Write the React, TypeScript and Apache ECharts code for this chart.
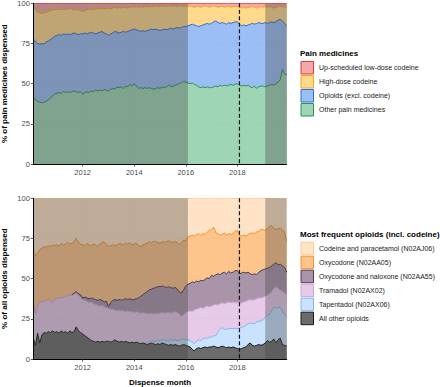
import { useEffect, useRef } from "react";
import * as echarts from "echarts";

const FONT = '"Liberation Sans", Arial, Helvetica, sans-serif';

// ---- time axis: monthly dispensing, Feb 2010 – Dec 2019 (decimal years) ----
const FIRST_YEAR = 2010;
const FIRST_MONTH_OFFSET = 1; // February
const MONTH_COUNT = 119;
const months: number[] = Array.from(
  { length: MONTH_COUNT },
  (_, i) => FIRST_YEAR + (FIRST_MONTH_OFFSET + i) / 12
);

const yearTicks = [2012, 2014, 2016, 2018];
const percentTicks = [0, 25, 50, 75, 100];
const gridPercents = [25, 50, 75];
const TOTAL = 100;
const shadedPeriods: [number, number][] = [
  [months[0], 2016 + 1 / 12],
  [2019 + 1 / 12, months[MONTH_COUNT - 1]],
];
const upschedulingDate = 2018 + 1 / 12;

// ---- Panel 1: pain medicines (upper boundaries of stacked bands, %) ----
const painLabels = [
  "Up-scheduled low-dose codeine",
  "High-dose codeine",
  "Opioids (excl. codeine)",
  "Other pain medicines",
];

const otherPainUpper = [
  42, 40, 39, 38.5, 38, 38.5, 39, 40, 41, 42.5, 43.5,
  44, 44.5, 44, 45, 44.5, 45, 44.5, 45, 45.5, 45, 44.5, 45,
  43.5, 44.5, 45, 44.5, 45.5, 45, 46, 45.5, 46, 45.5, 46.5, 46,
  45.5, 46.5, 47, 46.5, 48, 47.5, 48, 47, 48.5, 48, 49.5, 48.5,
  50, 48.5, 47, 47.5, 47, 47.5, 47, 47.5, 47, 46.5, 47, 47.5,
  47, 48, 47.5, 48, 49, 48.5, 48, 49, 49.5, 50, 50.5, 51.5,
  51, 50.5, 50, 50.5, 49.5, 49, 48, 47.5, 48, 47.5, 48, 47.5,
  47.5, 48, 48.5, 48, 49, 48.5, 49, 48.5, 49, 49.5, 49, 49.5,
  50, 49, 48.5, 49, 48.5, 49, 48, 47.5, 48.5, 47, 48, 48.5,
  48.5, 48, 48.5, 49, 49.5, 49, 50, 51, 52.5, 59, 56, 55.5,
];

const opioidsUpper = [
  78, 76, 75, 74.5, 75, 74.5, 76, 76.5, 77.5, 78.5, 79.5,
  80, 80.5, 80, 81, 80.5, 81, 80.5, 81, 81.5, 81, 80.5, 81,
  81, 81.5, 81, 81.5, 82, 81.5, 81, 81.5, 82, 82.5, 81.5, 81,
  80, 81, 81.5, 82.5, 82, 81.5, 82, 82.5, 82, 82.5, 83, 83.5,
  84, 83.5, 83, 82.5, 83, 82.5, 83, 83.5, 84, 83.5, 84, 83.5,
  83, 83.5, 84, 83.5, 84, 84.5, 84, 84.5, 85, 84.5, 85, 85.5,
  85.5, 86, 86.5, 87, 86.5, 86, 85.5, 86, 86.5, 87, 87.5, 87,
  87.5, 88.5, 89, 88, 87.5, 88, 87.5, 87, 88, 87.5, 88, 88.5,
  88.5, 87, 86, 86.5, 86, 86.5, 87, 87.5, 87, 87.5, 88, 87.5,
  87.5, 88, 87.5, 88, 88.5, 88, 88.5, 89.5, 90, 89, 87.5, 86,
];

const highDoseUpper = [
  98.5, 96, 94.5, 94, 93.8, 94, 94.5, 95, 95.5, 96, 96,
  96.5, 96, 96.5, 96, 96.5, 96.5, 97, 96.5, 96, 96.5, 96, 95.5,
  95, 95.5, 96, 96.5, 96, 96.5, 96.5, 97, 96.5, 97, 96.5, 97,
  97, 96.5, 97, 97.5, 97, 97.5, 97, 97.5, 97.5, 97, 97.5, 98,
  97.5, 98, 97.5, 98, 97.5, 98, 98, 97.5, 98, 98, 98.5, 98,
  98, 98.5, 98, 98, 98.5, 98, 98.5, 98.5, 98, 98.5, 98.5, 98,
  98.5, 98, 98.5, 98, 97.5, 98, 98, 97.5, 98, 98.5, 98, 97.5,
  98, 98.5, 98, 97.5, 98, 98, 97.5, 98, 98, 97.5, 98, 98,
  98, 97.5, 97, 97.5, 97, 97.5, 97.5, 98, 97.5, 97, 97.5, 98,
  97.5, 98, 97.5, 98, 97.5, 97, 97.5, 98, 98.5, 97.5, 98, 97,
];

// ---- Panel 2: most frequent opioids (upper boundaries of stacked bands, %) ----
const opioidLabels = [
  "Codeine and paracetamol (N02AJ06)",
  "Oxycodone (N02AA05)",
  "Oxycodone and naloxone (N02AA55)",
  "Tramadol (N02AX02)",
  "Tapentadol (N02AX06)",
  "All other opioids",
];

const otherOpioidsUpper = [
  13, 8.5, 16, 10, 15, 16.5, 16, 17, 16.5, 17.5, 16.5,
  17, 16, 17.5, 16.5, 17, 16, 17.5, 16.5, 17, 20, 17.5, 16.5,
  15.5, 14.5, 13.5, 12.5, 11.5, 11, 10.5, 11, 10.5, 11, 10.5, 11,
  11, 10.5, 11, 12, 11, 10.5, 11, 10.5, 11, 10.5, 10, 10.5,
  10, 10.5, 10, 9.5, 10, 9.5, 9, 9.5, 10, 9.5, 9, 9.5,
  9, 10, 9.5, 9, 8.5, 9, 8.5, 9, 8.5, 8, 8.5, 9,
  8.5, 8, 7.5, 6, 5, 6.5, 7, 6.5, 7, 7.5, 7, 7.5,
  7.5, 8, 7.5, 7, 7.5, 8, 7.5, 7, 7.5, 7, 7.5, 7,
  6.5, 6, 6.5, 7, 7.5, 9, 10, 8.5, 8, 8.5, 9, 8.5,
  9, 10, 11.5, 10.5, 11, 12.5, 10, 12, 13, 9, 8.5, 8,
];

// null = not yet dispensed (tapentadol from mid-2014)
const tapentadolUpper: (number | null)[] = [
  null, null, null, null, null, null, null, null, null, null, null,
  null, null, null, null, null, null, null, null, null, null, null, null,
  null, null, null, null, null, null, null, null, null, null, null, null,
  null, null, null, null, null, null, null, null, null, null, null, null,
  null, null, null, null, null, null, 9.5, 10.5, 11.5, 11, 11, 11.5,
  11, 12, 12, 11.5, 11, 12, 11.5, 12, 11.5, 11.5, 12, 12.5,
  12, 12, 11.5, 10.5, 9.5, 11, 12, 11.5, 12.5, 13, 13, 13.5,
  13.5, 14.5, 14.5, 17, 18.5, 19.5, 18.5, 18.5, 19, 19, 19, 19,
  19, 19, 20, 20, 21, 22, 22.5, 22, 22, 23, 23.5, 23.5,
  24.5, 26, 27.5, 27.5, 30, 32.5, 31.5, 32, 32, 30, 27.5, 26,
];

const tramadolUpper = [
  35.5, 28, 33, 35, 36, 35.5, 36.5, 37.5, 36, 35, 37,
  38, 37.5, 38.5, 38, 39.5, 39, 40, 39.5, 40.5, 41, 39.5, 38.5,
  37, 36.5, 36, 35, 35.5, 34.5, 34, 33.5, 33, 33.5, 32.5, 32,
  31.5, 31, 31, 30.5, 30, 30.5, 30, 30, 29.5, 30, 29.5, 29.5,
  29, 29.5, 29, 28.5, 29, 28.5, 28.5, 28, 28.5, 28, 28.5, 28.5,
  28.5, 29, 28.5, 29, 29, 28.5, 29, 29.5, 29, 28, 26.5, 27.5,
  29, 29.5, 30, 29.5, 30.5, 31, 31.5, 32, 31.5, 32.5, 33, 32.5,
  33, 33.5, 34, 33.5, 34.5, 35, 34.5, 35, 35.5, 35, 35.5, 35,
  35.5, 34.5, 35, 35.5, 36, 36.5, 37, 36.5, 37, 37.5, 38, 38,
  38.5, 39, 40, 40.5, 42, 44, 45, 44, 43, 42.5, 41, 40,
];

// null = not yet dispensed (oxycodone + naloxone from late 2011)
const oxyNaloxoneUpper: (number | null)[] = [
  null, null, null, null, null, null, null, null, null, null, null,
  null, null, null, null, null, null, null, 40, 41, 42, 40.5, 40,
  38, 38.5, 38, 37.5, 38, 37.5, 37, 36.5, 37, 36.5, 35.5, 36,
  32.5, 35, 36.5, 37, 36.5, 37, 36.5, 37, 37.5, 37, 37.5, 37,
  37, 37.5, 38, 39, 40, 41, 42, 43, 43.5, 44, 44.5, 45,
  45, 45.5, 45, 44.5, 45, 44.5, 44, 44.5, 43.5, 42, 41, 43,
  45.5, 46.5, 47, 48, 47.5, 48.5, 48, 49, 48.5, 49.5, 50.5, 50,
  52, 51.5, 52.5, 53, 52.5, 53.5, 54, 53, 54.5, 53.5, 54, 55,
  55, 53, 53.5, 54, 53.5, 54, 53, 52.5, 53, 52.5, 54, 55,
  55.5, 56, 56.5, 57, 58, 59, 60, 58.5, 59, 58, 57, 54,
];

const oxycodoneUpper = [
  68, 64, 66, 68, 69, 70, 69.5, 70.5, 70, 71, 70.5,
  71, 70.5, 72, 71, 71.5, 72.5, 71.5, 72, 73, 75, 72.5, 71.5,
  71, 70.5, 72, 71, 70.5, 71.5, 71, 70, 71.5, 72.5, 73, 71.5,
  70, 70.5, 71, 70.5, 71, 72, 71.5, 71, 72, 71.5, 72.5, 71,
  71.5, 72, 70.5, 70, 71, 71.5, 72, 73, 72, 73.5, 73, 72.5,
  72, 73, 72.5, 73, 73.5, 73, 72.5, 73, 72.5, 71, 72.5, 74,
  73.5, 76, 76.5, 77, 76.5, 77.5, 78, 77, 78, 77.5, 79, 80,
  80.5, 82, 78.5, 78, 77, 77.5, 78.5, 77, 78, 77.5, 78, 79.5,
  80, 77, 76.5, 77, 76.5, 77.5, 78, 78.5, 78, 79, 79.5, 80.5,
  80.5, 80, 81, 82.5, 83, 81.5, 80.5, 81, 81.5, 80.5, 79, 73,
];

// ---- styles ----
const painFills = ["#F3A9A9", "#FFD98C", "#9CBEF6", "#9ED6B5"];
const painLines = ["#E23A3A", "#F2A81D", "#2F6FD8", "#2A9457"];
const opioidFills = ["#FFE3C7", "#FDC48B", "#AA94AA", "#E7C9E8", "#C9E2FE", "#6C6C6C"];
const opioidLines = ["#FFC995", "#F3912B", "#4E3D4E", "#CDA5D6", "#86B6EF", "#1A1A1A"];
const SHADE = "rgba(70,70,70,0.35)";

const GRID_LEFT = 33.3;
const GRID_W = 253.4;
const GRID_H = 160.7;
const GRID_TOPS = [3.3, 198.3];

function pairs(values: (number | null)[]) {
  return months.map((m, i) => [m, values[i] == null ? null : values[i]]);
}
function withFallback(values: (number | null)[], fallback: number[]) {
  return values.map((v, i) => (v == null ? fallback[i] : v));
}

function areaSeries(name: string, upper: (number | null)[], fill: string, g: number) {
  return {
    type: "line",
    name: name + " area",
    xAxisIndex: g,
    yAxisIndex: g,
    data: pairs(upper),
    showSymbol: false,
    symbol: "none",
    silent: true,
    lineStyle: { width: 0, opacity: 0 },
    areaStyle: { color: fill, opacity: 1 },
    z: 2,
  };
}
function lineSeries(name: string, upper: (number | null)[], color: string, g: number) {
  return {
    type: "line",
    name,
    xAxisIndex: g,
    yAxisIndex: g,
    data: pairs(upper),
    showSymbol: false,
    symbol: "none",
    silent: true,
    connectNulls: false,
    lineStyle: { width: 1, color },
    z: 3,
  };
}

const overlayItems: number[][] = [
  ...yearTicks.map((y) => [0, y, y]),
  ...gridPercents.map((p) => [1, p, p]),
  ...shadedPeriods.map(([a, b]) => [2, a, b]),
  [3, upschedulingDate, upschedulingDate],
];

function overlaySeries(g: number) {
  return {
    type: "custom",
    xAxisIndex: g,
    yAxisIndex: g,
    silent: true,
    z: 10,
    data: overlayItems,
    renderItem: (params: any, api: any) => {
      const kind = api.value(0);
      const a = api.value(1);
      const b = api.value(2);
      const cs = params.coordSys;
      if (kind === 0 || kind === 3) {
        const x = api.coord([a, 0])[0];
        return {
          type: "line",
          shape: { x1: x, y1: cs.y, x2: x, y2: cs.y + cs.height },
          style:
            kind === 0
              ? { stroke: "rgba(0,0,0,0.08)", lineWidth: 0.6, lineDash: [1, 1.5] }
              : { stroke: "#111111", lineWidth: 1.2, lineDash: [4, 2.5] },
        };
      }
      if (kind === 1) {
        const y = api.coord([months[0], a])[1];
        return {
          type: "line",
          shape: { x1: cs.x, y1: y, x2: cs.x + cs.width, y2: y },
          style: { stroke: "rgba(0,0,0,0.08)", lineWidth: 0.6, lineDash: [1, 1.5] },
        };
      }
      const p1 = api.coord([a, TOTAL]);
      const p2 = api.coord([b, 0]);
      return {
        type: "rect",
        shape: { x: p1[0], y: p1[1], width: p2[0] - p1[0], height: p2[1] - p1[1] },
        style: { fill: SHADE },
      };
    },
  };
}

function legend(title: string, labels: string[], fills: string[], strokes: string[], titleY: number, firstY: number, step: number) {
  const els: any[] = [
    {
      type: "text",
      x: 300,
      y: titleY,
      silent: true,
      style: { text: title, fontFamily: FONT, fontSize: 8, fontWeight: "bold", fill: "#000", align: "left", verticalAlign: "middle" },
    },
  ];
  labels.forEach((lab, i) => {
    const cy = firstY + i * step;
    els.push({
      type: "rect",
      silent: true,
      shape: { x: 301, y: cy - 6, width: 12.5, height: 12.5 },
      style: { fill: fills[i], stroke: strokes[i], lineWidth: 1 },
    });
    els.push({
      type: "text",
      x: 319,
      y: cy + 0.3,
      silent: true,
      style: { text: lab, fontFamily: FONT, fontSize: 7, fill: "#1a1a1a", align: "left", verticalAlign: "middle" },
    });
  });
  return els;
}

export default function App() {
  const ref = useRef<HTMLDivElement>(null);
  useEffect(() => {
    if (!ref.current) return;
    const chart = echarts.init(ref.current, null, { renderer: "svg" });

    const painTotal = months.map(() => TOTAL);
    const opioidTotal = months.map(() => TOTAL);

    const tapFilled = withFallback(tapentadolUpper, otherOpioidsUpper);
    const oxyNalFilled = withFallback(oxyNaloxoneUpper, tramadolUpper);

    const series: any[] = [
      // panel 1 areas (top band first, opaque layering)
      areaSeries(painLabels[0], painTotal, painFills[0], 0),
      areaSeries(painLabels[1], highDoseUpper, painFills[1], 0),
      areaSeries(painLabels[2], opioidsUpper, painFills[2], 0),
      areaSeries(painLabels[3], otherPainUpper, painFills[3], 0),
      lineSeries(painLabels[3], otherPainUpper, painLines[3], 0),
      lineSeries(painLabels[2], opioidsUpper, painLines[2], 0),
      lineSeries(painLabels[1], highDoseUpper, painLines[1], 0),
      lineSeries(painLabels[0], painTotal, painLines[0], 0),
      overlaySeries(0),
      // panel 2
      areaSeries(opioidLabels[0], opioidTotal, opioidFills[0], 1),
      areaSeries(opioidLabels[1], oxycodoneUpper, opioidFills[1], 1),
      areaSeries(opioidLabels[2], oxyNalFilled, opioidFills[2], 1),
      areaSeries(opioidLabels[3], tramadolUpper, opioidFills[3], 1),
      areaSeries(opioidLabels[4], tapFilled, opioidFills[4], 1),
      areaSeries(opioidLabels[5], otherOpioidsUpper, opioidFills[5], 1),
      lineSeries(opioidLabels[5], otherOpioidsUpper, opioidLines[5], 1),
      lineSeries(opioidLabels[4], tapentadolUpper, opioidLines[4], 1),
      lineSeries(opioidLabels[3], tramadolUpper, opioidLines[3], 1),
      lineSeries(opioidLabels[2], oxyNaloxoneUpper, opioidLines[2], 1),
      lineSeries(opioidLabels[1], oxycodoneUpper, opioidLines[1], 1),
      lineSeries(opioidLabels[0], opioidTotal, opioidLines[0], 1),
      overlaySeries(1),
    ];

    const xAxis = [0, 1].map((g) => ({
      type: "value",
      gridIndex: g,
      min: months[0],
      max: months[MONTH_COUNT - 1],
      axisLine: { show: true, onZero: false, lineStyle: { color: "#000", width: 1 } },
      axisTick: { show: true, customValues: yearTicks, length: 2.5, lineStyle: { color: "#333", width: 0.8 } },
      axisLabel: {
        customValues: yearTicks,
        formatter: (v: number) => String(Math.round(v)),
        fontFamily: FONT,
        fontSize: 7.5,
        color: "#4d4d4d",
        margin: 4,
      },
      splitLine: { show: false },
      z: 12,
    }));

    const yAxis = [0, 1].map((g) => ({
      type: "value",
      gridIndex: g,
      min: percentTicks[0],
      max: percentTicks[percentTicks.length - 1],
      interval: percentTicks[1] - percentTicks[0],
      axisLine: { show: true, onZero: false, lineStyle: { color: "#000", width: 1 } },
      axisTick: { show: true, length: 2.5, lineStyle: { color: "#333", width: 0.8 } },
      axisLabel: { fontFamily: FONT, fontSize: 7.5, color: "#4d4d4d", margin: 3.5 },
      splitLine: { show: false },
      z: 12,
    }));

    const yTitle = (text: string, cy: number) => ({
      type: "text",
      x: 4.5,
      y: cy,
      rotation: Math.PI / 2,
      silent: true,
      style: { text, fontFamily: FONT, fontSize: 8, fontWeight: "bold", fill: "#000", align: "center", verticalAlign: "middle" },
    });

    chart.setOption({
      animation: false,
      backgroundColor: "#ffffff",
      grid: GRID_TOPS.map((top) => ({
        left: GRID_LEFT,
        top,
        width: GRID_W,
        height: GRID_H,
        containLabel: false,
        outerBoundsMode: "none",
      })),
      xAxis,
      yAxis,
      series,
      graphic: {
        elements: [
          yTitle("% of pain medicines dispensed", GRID_TOPS[0] + GRID_H / 2),
          yTitle("% of all opioids dispensed", GRID_TOPS[1] + GRID_H / 2),
          {
            type: "text",
            x: GRID_LEFT + GRID_W / 2,
            y: 382,
            silent: true,
            style: { text: "Dispense month", fontFamily: FONT, fontSize: 8, fontWeight: "bold", fill: "#000", align: "center", verticalAlign: "middle" },
          },
          ...legend("Pain medicines", painLabels, painFills, painLines, 53.3, 67.5, 14),
          ...legend("Most frequent opioids (incl. codeine)", opioidLabels, opioidFills, opioidLines, 234.3, 248.2, 14),
        ],
      },
    });
    return () => chart.dispose();
  }, []);

  return (
    <div
      ref={ref}
      style={{ position: "fixed", left: 0, top: 0, width: 440, height: 387, background: "#fff" }}
    />
  );
}
